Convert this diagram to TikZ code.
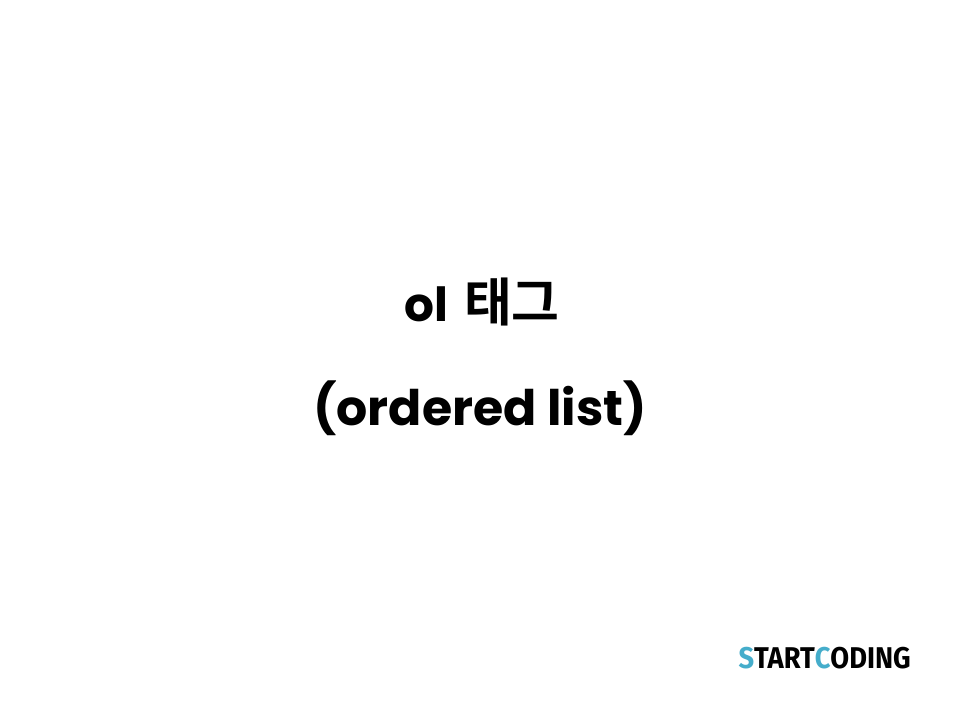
\documentclass[tikz,border=0pt]{standalone}
\usepackage{fontspec}
\setmainfont{Poppins}[BoldFont={* Bold}]
\newfontfamily\cjk{Noto Sans CJK KR}[BoldFont={* Bold}]
\newfontfamily\logofont{Fira Sans}[BoldFont={* Bold},FakeStretch=0.91]
\definecolor{logoblue}{HTML}{45ADCB}
\begin{document}
\begin{tikzpicture}[
  x=1pt, y=-1pt,
  ttl/.style={font=\fontsize{49}{54}\selectfont\bfseries, text=black, inner sep=0pt, anchor=base},
  logo/.style={font=\logofont\fontsize{30}{34}\selectfont\bfseries, inner sep=0pt, anchor=base east}
]
  \useasboundingbox[fill=white] (0,0) rectangle (960,720);
  \node[ttl] (head) at (482,321) {\fontsize{47}{54}\selectfont ol\hspace{16pt}{\cjk\fontsize{52}{54}\selectfont 태그}};
  \node[ttl] (sub) at (480,425) {(ordered list)};
  \node[logo] (brand) at (911,668) {{\color{logoblue}S}TART{\color{logoblue}C}ODING};
\end{tikzpicture}
\end{document}
